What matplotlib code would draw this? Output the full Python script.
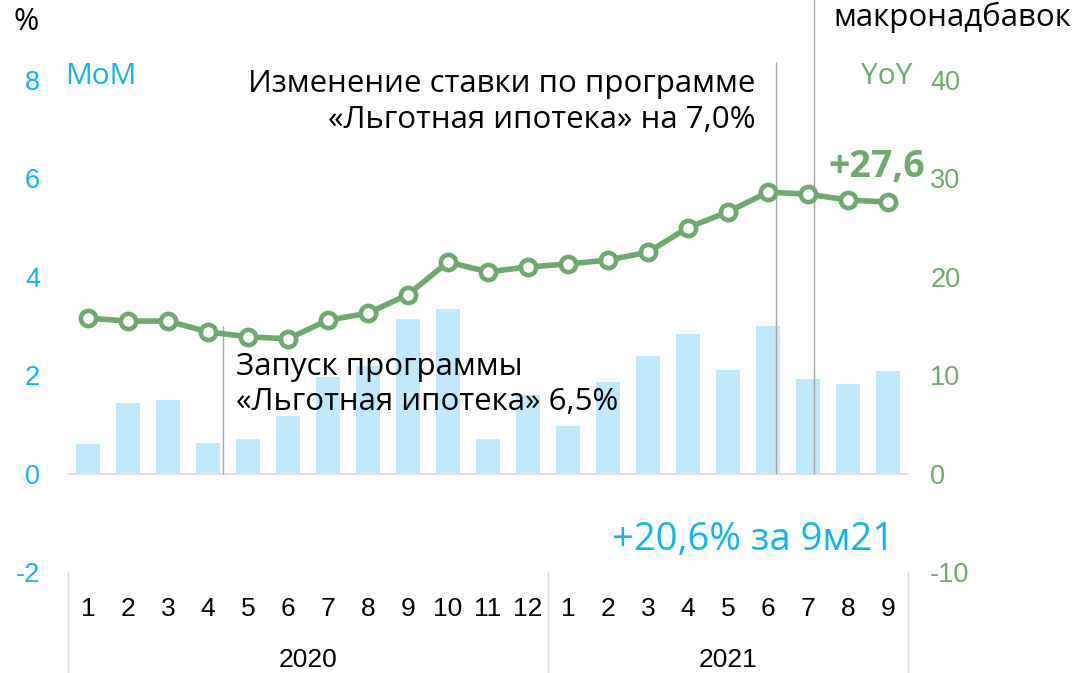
import numpy as np
import matplotlib as mpl
mpl.use('Agg')
import matplotlib.pyplot as plt
import matplotlib.transforms as mtransforms

plt.rcParams['font.family'] = ['Open Sans', 'DejaVu Sans']
plt.rcParams['axes.unicode_minus'] = False

# data
months = ['1', '2', '3', '4', '5', '6', '7', '8', '9', '10', '11', '12',
          '1', '2', '3', '4', '5', '6', '7', '8', '9']
years = ['2020', '2021']
year_len = [12, 9]
mom = [0.60, 1.44, 1.50, 0.63, 0.70, 1.17, 1.96, 2.18, 3.14, 3.35, 0.71, 1.59,
       0.96, 1.87, 2.40, 2.84, 2.11, 2.99, 1.92, 1.83, 2.08]
yoy = [15.8, 15.5, 15.5, 14.4, 13.9, 13.7, 15.6, 16.3, 18.2, 21.5, 20.5, 21.0,
       21.3, 21.7, 22.5, 25.0, 26.6, 28.6, 28.4, 27.8, 27.6]

blue = '#12B5E8'
green = '#6DAA6D'
barc = '#C0E9FC'
grey = '#A6A6A6'
narrow = ['Liberation Sans Narrow', 'Liberation Sans', 'DejaVu Sans']
arial = ['Liberation Sans', 'DejaVu Sans']

fig = plt.figure(figsize=(10.77, 6.73), dpi=100)
ax = fig.add_axes([68/1077, 101/673, 840/1077, 492/673])
ax2 = ax.twinx()

x = np.arange(len(mom))
ax.bar(x, mom, width=0.6, color=barc, zorder=2)
ax.axhline(0, color='#D9D9D9', lw=1.2, zorder=1)
ax.set_ylim(-2, 8)
ax.set_xlim(-0.5, len(mom) - 0.5)
ax.set_yticks(np.arange(-2, 9, 2))
ax.tick_params(axis='y', length=0, pad=20, labelcolor=blue, labelsize=19.5)
for lab in ax.get_yticklabels():
    lab.set_family(arial)
ax.set_xticks(x)
ax.set_xticklabels(months, family=narrow, fontsize=19)
ax.tick_params(axis='x', length=0, pad=18)

ax2.plot(x, yoy, color=green, lw=4, marker='o', ms=11, mfc='white',
         mec=green, mew=3.3, zorder=5)
ax2.set_ylim(-10, 40)
ax2.set_yticks(np.arange(-10, 41, 10))
ax2.tick_params(axis='y', length=0, pad=16, labelcolor=green, labelsize=19.5)
for lab in ax2.get_yticklabels():
    lab.set_family(arial)

for a in (ax, ax2):
    for s in a.spines.values():
        s.set_visible(False)

# event lines
ax.vlines(3.38, 3.0, 0, color=grey, lw=1, zorder=3)
ax.vlines(17.2, 0, 8.37, color=grey, lw=1, zorder=3, clip_on=False)
ax.vlines(18.15, 0, 9.7, color=grey, lw=1, zorder=3, clip_on=False)

# year groups below the month labels
trans = mtransforms.blended_transform_factory(ax.transData, ax.transAxes)
start = -0.5
ax.plot([start, start], [0, -0.21], color='#D9D9D9', lw=1, transform=trans, clip_on=False)
for yr, n in zip(years, year_len):
    ax.text(start + n / 2, -0.178, yr, transform=trans, ha='center', va='center',
            fontsize=19, family=narrow)
    start += n
    ax.plot([start, start], [0, -0.21], color='#D9D9D9', lw=1, transform=trans, clip_on=False)

# texts
fig.text(14/1077, 1 - 22/673, '%', fontsize=22, va='center', ha='left')
fig.text(833/1077, 1 - 17/673, 'макронадбавок', fontsize=22.5, va='center', ha='left')
fig.text(65/1077, 1 - 76/673, 'MoM', fontsize=21.5, color=blue, va='center', ha='left')
fig.text(912/1077, 1 - 76/673, 'YoY', fontsize=21.5, color=green, va='center', ha='right')
ax.text(16.68, 7.55, 'Изменение ставки по программе\n«Льготная ипотека» на 7,0%',
        fontsize=22.5, ha='right', va='center', linespacing=1.25, zorder=6)
ax.text(3.7, 1.81, 'Запуск программы\n«Льготная ипотека» 6,5%',
        fontsize=22.5, ha='left', va='center', linespacing=1.25, zorder=6)
ax2.text(20.92, 31.2, '+27,6', fontsize=27, fontweight='bold', color=green,
         ha='right', va='center', zorder=6)
ax.text(20.15, -1.34, '+20,6% за 9м21', fontsize=27.5, color=blue,
        ha='right', va='center', zorder=6)

fig.savefig('out.png', dpi=100)
